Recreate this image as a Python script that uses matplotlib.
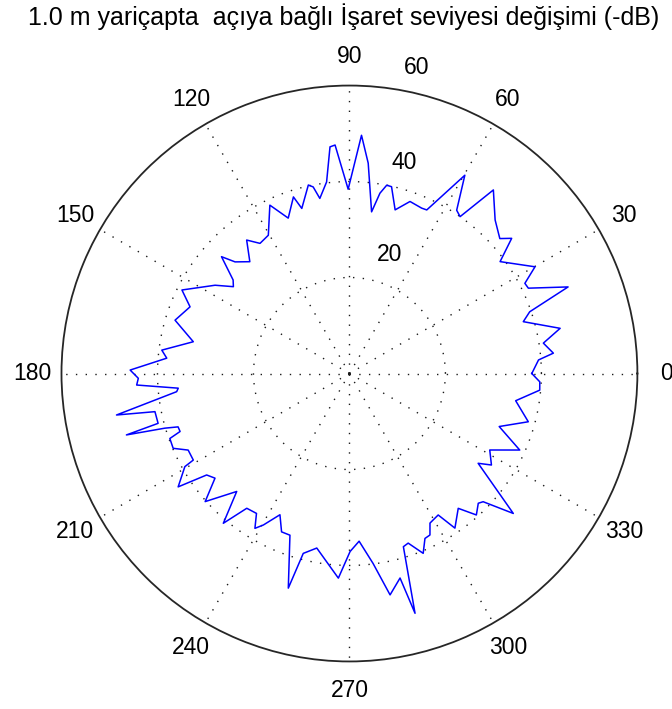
import numpy as np
import matplotlib
matplotlib.use("Agg")
import matplotlib.pyplot as plt

#-----------------------------------------------------------------------
# Data (angle in degrees, level in -dB)
#-----------------------------------------------------------------------
angle_deg = [0, 4.1, 5.7, 8.9, 12.1, 16.6, 18.9, 21.6, 25.5, 27.2,
             29.9, 36.6, 39.8, 41.9, 46.5, 51.9, 54.8, 56.7, 59.8, 64.7,
             66.4, 70.6, 74.4, 77.3, 78.8, 80.4, 82.2, 84.9, 87.1, 90.4,
             93.6, 94.9, 96.8, 99.6, 101.0, 102.3, 106.1, 107.6, 111.5, 115.3,
             120.4, 124.5, 127.6, 131.7, 135.7, 137.6, 141.2, 143.2, 146.7, 153.5,
             157.3, 163.0, 168.5, 172.9, 175.2, 179.1, 181.3, 183.1, 184.9, 186.0,
             190.1, 191.1, 194.6, 195.4, 196.5, 197.3, 198.9, 199.9, 203.0, 205.4,
             209.0, 209.5, 213.5, 215.4, 217.9, 221.6, 226.3, 229.9, 232.7, 236.4,
             238.6, 240.4, 243.8, 246.8, 249.8, 254.1, 255.6, 259.4, 266.9, 270.2,
             273.3, 277.1, 280.4, 283.9, 285.3, 287.3, 289.1, 292.3, 294.6, 296.5,
             298.3, 302.1, 304.3, 308.9, 311.9, 314.8, 316.2, 319.5, 325.1, 327.2,
             331.4, 335.8, 340.5, 344.9, 350.7, 355.0, 357.5, 360.0]

level_db = [38.0, 39.5, 42.7, 40.9, 44.9, 37.8, 39.7, 49.0, 41.3, 41.1,
            44.6, 39.1, 44.0, 42.1, 44.1, 48.6, 40.0, 40.7, 47.8, 37.7,
            37.6, 38.0, 35.4, 39.9, 40.0, 38.1, 34.0, 44.0, 49.7, 38.4,
            47.7, 47.4, 40.2, 37.0, 39.6, 40.2, 35.8, 38.6, 34.8, 38.8,
            33.4, 32.9, 35.1, 31.2, 33.3, 36.1, 31.1, 30.2, 33.5, 39.0,
            36.0, 38.0, 33.2, 39.4, 38.2, 45.7, 44.0, 44.4, 35.8, 36.2,
            49.3, 41.3, 41.2, 48.2, 40.1, 37.4, 37.3, 39.8, 39.9, 37.2,
            37.2, 39.4, 42.8, 36.5, 35.5, 40.2, 34.0, 40.8, 35.3, 35.0,
            37.8, 36.3, 32.8, 35.9, 35.9, 46.5, 38.7, 37.0, 42.7, 37.1,
            35.0, 39.9, 46.9, 43.9, 51.8, 37.8, 37.4, 40.5, 37.8, 37.6,
            35.4, 34.8, 39.0, 36.1, 39.6, 38.1, 38.6, 44.9, 32.7, 35.2,
            33.3, 38.9, 33.1, 38.6, 35.1, 39.8, 39.7, 38.0]

ring_values = [20, 40]
ring_labels = ["20", "40", "60"]
spoke_angles = list(range(0, 360, 30))
spoke_labels = [str(a) for a in spoke_angles]
title_text = "1.0 m yariçapta  açıya bağlı İşaret seviyesi değişimi (-dB)"


def main():
    plt.rcParams['font.family'] = ['Liberation Sans', 'DejaVu Sans']

    fig = plt.figure(figsize=(6.72, 7.09), dpi=100)
    ax = fig.add_axes([0.0915, 0.067, 0.857, 0.8124], projection='polar')

    #---------------------------------------------------------------
    # Grid : dotted rings and spokes, solid outer circle
    #---------------------------------------------------------------
    ax.set_ylim(0, 60)
    ax.set_rticks(ring_values)
    ax.set_yticklabels([])
    ax.set_thetagrids(spoke_angles, labels=[])
    ax.grid(True, color='0.1', linestyle=(0, (1, 6)), linewidth=1.0)
    ax.spines['polar'].set_color('0.15')
    ax.spines['polar'].set_linewidth(1.3)

    #---------------------------------------------------------------
    # Signal level trace
    #---------------------------------------------------------------
    theta = np.deg2rad(angle_deg)
    ax.plot(theta, level_db, color='#0000ff', linewidth=1.1)

    #---------------------------------------------------------------
    # Labels
    #---------------------------------------------------------------
    for a, lab in zip(spoke_angles, spoke_labels):
        ax.text(np.deg2rad(a), 66, lab, ha='center', va='center',
                fontsize=16.5, color='black')

    ring_pos = [(71.1, 26.1), (75.5, 45.4), (77.6, 65.3)]
    for (a, r), lab in zip(ring_pos, ring_labels):
        ax.text(np.deg2rad(a), r, lab, ha='center', va='center',
                fontsize=16.5, color='black')

    fig.text(0.511, 0.976, title_text, ha='center', va='center',
             fontsize=18, color='black')

    fig.savefig("out.png", dpi=100)


if __name__ == "__main__":
    main()
